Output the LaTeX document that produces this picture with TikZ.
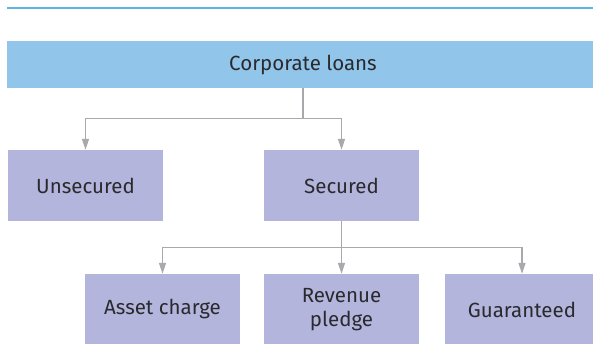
\documentclass[tikz,border=0pt]{standalone}
\usepackage{fontspec}
\setmainfont{Fira Sans}
\usetikzlibrary{arrows.meta}
\definecolor{topblue}{HTML}{92C5EA}
\definecolor{boxpurple}{HTML}{B3B5DC}
\definecolor{rulegray}{HTML}{A7A9AC}
\definecolor{ruleblue}{HTML}{5BB5E0}
\definecolor{textdark}{HTML}{2A2A2E}

\begin{document}
\begin{tikzpicture}[x=1pt,y=-1pt,>={Triangle[length=11pt,width=7pt]},
  kind/.style={fill=boxpurple,minimum width=155pt,minimum height=71pt,inner sep=0pt,
    text=textdark,font=\fontsize{20.5}{24}\selectfont,align=center},
  link/.style={->,rulegray,line width=1.2pt}]
  \useasboundingbox (0,0) rectangle (593,343);
  \clip (0,0) rectangle (593,343);
  \draw[ruleblue,line width=1.5pt] (7,8)--(600,8);
  \node[fill=topblue,minimum width=592pt,minimum height=47pt,inner sep=0pt,
    text=textdark,font=\fontsize{20.5}{24}\selectfont] (loans) at (303,64.5) {Corporate loans};
  \node[kind] (unsecured) at (85.5,185.5) {Unsecured};
  \node[kind] (secured) at (341.5,185.5) {Secured};
  \node[kind] (asset) at (162.5,309.5) {Asset charge};
  \node[kind] (revenue) at (341.5,309.5) {Revenue\\pledge};
  \node[kind] (guaranteed) at (522,309.5) {Guaranteed};
  \draw[link] (loans.south) -- ++(0,30) -| (unsecured);
  \draw[link] (loans.south) -- ++(0,30) -| (secured);
  \draw[link] (secured.south) -- ++(0,26) -| (asset);
  \draw[link] (secured.south) -- (revenue);
  \draw[link] (secured.south) -- ++(0,26) -| (guaranteed);
\end{tikzpicture}
\end{document}
